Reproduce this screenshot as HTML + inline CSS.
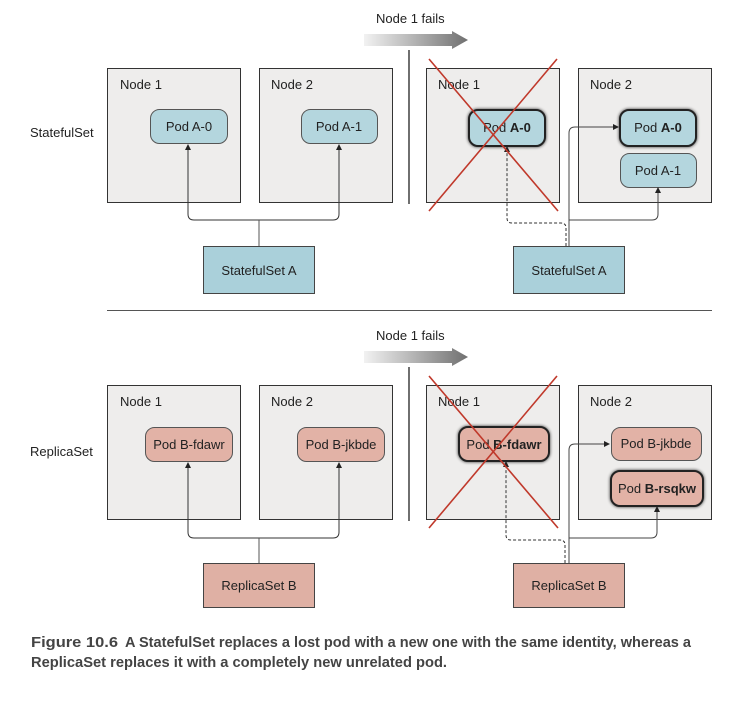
<!DOCTYPE html>
<html><head><meta charset="utf-8"><style>
html,body{margin:0;padding:0;background:#fff;}
svg{display:block;font-family:"Liberation Sans",sans-serif;}
</style></head><body>
<svg width="750" height="717" viewBox="0 0 750 717" xmlns="http://www.w3.org/2000/svg">
<defs>
<linearGradient id="g" x1="0" x2="1"><stop offset="0" stop-color="#f2f2f2"/><stop offset="1" stop-color="#707070"/></linearGradient>
<marker id="ah" markerWidth="6" markerHeight="6" refX="5" refY="3" orient="auto" markerUnits="userSpaceOnUse"><path d="M0,0 L6,3 L0,6 z" fill="#222"/></marker>
<filter id="sh" x="-20%" y="-30%" width="140%" height="160%"><feGaussianBlur in="SourceAlpha" stdDeviation="1.5"/><feComponentTransfer><feFuncA type="linear" slope="0.8"/></feComponentTransfer><feMerge><feMergeNode/><feMergeNode in="SourceGraphic"/></feMerge></filter>
</defs>
<g font-size="13" fill="#222">
<!-- TOP -->
<text x="376" y="23">Node 1 fails</text>
<path d="M364,34 H452 V31 L468,40 L452,49 V46 H364 z" fill="url(#g)"/>
<line x1="409" y1="50" x2="409" y2="204" stroke="#222" stroke-width="1.3"/>
<text x="30" y="137">StatefulSet</text>
<rect x="107.5" y="68.5" width="133" height="134" fill="#eeedec" stroke="#333"/>
<rect x="259.5" y="68.5" width="133" height="134" fill="#eeedec" stroke="#333"/>
<rect x="426.5" y="68.5" width="133" height="134" fill="#eeedec" stroke="#333"/>
<rect x="578.5" y="68.5" width="133" height="134" fill="#eeedec" stroke="#333"/>
<text x="120" y="89">Node 1</text><text x="271" y="89">Node 2</text>
<text x="438" y="89">Node 1</text><text x="590" y="89">Node 2</text>
<rect x="150.5" y="109.5" width="77" height="34" rx="9" fill="#b4d6de" stroke="#555"/>
<text x="189" y="131" text-anchor="middle">Pod A-0</text>
<rect x="301.5" y="109.5" width="76" height="34" rx="9" fill="#b4d6de" stroke="#555"/>
<text x="339" y="131" text-anchor="middle">Pod A-1</text>
<path d="M259,220 H194 Q188,220 188,214 V145" fill="none" stroke="#333" marker-end="url(#ah)"/>
<path d="M259,220 H333 Q339,220 339,214 V145" fill="none" stroke="#333" marker-end="url(#ah)"/>
<line x1="259" y1="220" x2="259" y2="246" stroke="#555"/>
<rect x="203.5" y="246.5" width="111" height="47" fill="#aad0da" stroke="#444"/>
<text x="259" y="275" text-anchor="middle">StatefulSet A</text>
<!-- right top -->
<rect x="469" y="110" width="76" height="36" rx="9" fill="#b4d6de" stroke="#222" stroke-width="2" filter="url(#sh)"/>
<text x="507" y="132" text-anchor="middle">Pod <tspan font-weight="bold">A-0</tspan></text>
<rect x="620" y="110" width="76" height="36" rx="9" fill="#b4d6de" stroke="#222" stroke-width="2" filter="url(#sh)"/>
<text x="658" y="132" text-anchor="middle">Pod <tspan font-weight="bold">A-0</tspan></text>
<rect x="620.5" y="153.5" width="76" height="34" rx="9" fill="#b4d6de" stroke="#555"/>
<text x="658" y="175" text-anchor="middle">Pod A-1</text>
<path d="M566,246 V228 Q566,223 561,223 H512 Q507,223 507,218 V147" fill="none" stroke="#333" stroke-dasharray="3,2" marker-end="url(#ah)"/>
<path d="M569,246 V133 Q569,127 575,127 H618" fill="none" stroke="#444" marker-end="url(#ah)"/>
<path d="M569,220 H652 Q658,220 658,214 V188" fill="none" stroke="#444" marker-end="url(#ah)"/>
<rect x="513.5" y="246.5" width="111" height="47" fill="#aad0da" stroke="#444"/>
<text x="569" y="275" text-anchor="middle">StatefulSet A</text>
<line x1="429" y1="59" x2="558" y2="211" stroke="#c0392b" stroke-width="1.6"/>
<line x1="557" y1="59" x2="429" y2="211" stroke="#c0392b" stroke-width="1.6"/>

<line x1="107" y1="310.5" x2="712" y2="310.5" stroke="#555"/>

<!-- BOTTOM -->
<text x="376" y="340">Node 1 fails</text>
<path d="M364,351 H452 V348 L468,357 L452,366 V363 H364 z" fill="url(#g)"/>
<line x1="409" y1="367" x2="409" y2="521" stroke="#222" stroke-width="1.3"/>
<text x="30" y="456">ReplicaSet</text>
<rect x="107.5" y="385.5" width="133" height="134" fill="#eeedec" stroke="#333"/>
<rect x="259.5" y="385.5" width="133" height="134" fill="#eeedec" stroke="#333"/>
<rect x="426.5" y="385.5" width="133" height="134" fill="#eeedec" stroke="#333"/>
<rect x="578.5" y="385.5" width="133" height="134" fill="#eeedec" stroke="#333"/>
<text x="120" y="406">Node 1</text><text x="271" y="406">Node 2</text>
<text x="438" y="406">Node 1</text><text x="590" y="406">Node 2</text>
<rect x="145.5" y="427.5" width="87" height="34" rx="9" fill="#e2b2a6" stroke="#555"/>
<text x="189" y="449" text-anchor="middle">Pod B-fdawr</text>
<rect x="297.5" y="427.5" width="87" height="34" rx="9" fill="#e2b2a6" stroke="#555"/>
<text x="341" y="449" text-anchor="middle">Pod B-jkbde</text>
<path d="M259,538 H194 Q188,538 188,532 V463" fill="none" stroke="#333" marker-end="url(#ah)"/>
<path d="M259,538 H333 Q339,538 339,532 V463" fill="none" stroke="#333" marker-end="url(#ah)"/>
<line x1="259" y1="538" x2="259" y2="563" stroke="#555"/>
<rect x="203.5" y="563.5" width="111" height="44" fill="#dfb0a4" stroke="#444"/>
<text x="259" y="590" text-anchor="middle">ReplicaSet B</text>
<!-- right bottom -->
<rect x="459" y="427" width="90" height="34" rx="9" fill="#e2b2a6" stroke="#222" stroke-width="2" filter="url(#sh)"/>
<text x="504" y="449" text-anchor="middle">Pod <tspan font-weight="bold">B-fdawr</tspan></text>
<rect x="611.5" y="427.5" width="90" height="33" rx="9" fill="#e2b2a6" stroke="#555"/>
<text x="656" y="448" text-anchor="middle">Pod B-jkbde</text>
<rect x="611" y="471" width="92" height="35" rx="9" fill="#e2b2a6" stroke="#222" stroke-width="2" filter="url(#sh)"/>
<text x="657" y="493" text-anchor="middle">Pod <tspan font-weight="bold">B-rsqkw</tspan></text>
<path d="M565,563 V545 Q565,540 560,540 H511 Q506,540 506,535 V462" fill="none" stroke="#333" stroke-dasharray="3,2" marker-end="url(#ah)"/>
<path d="M569,563 V450 Q569,444 575,444 H609" fill="none" stroke="#444" marker-end="url(#ah)"/>
<path d="M569,538 H651 Q657,538 657,532 V507" fill="none" stroke="#444" marker-end="url(#ah)"/>
<rect x="513.5" y="563.5" width="111" height="44" fill="#dfb0a4" stroke="#444"/>
<text x="569" y="590" text-anchor="middle">ReplicaSet B</text>
<line x1="429" y1="376" x2="558" y2="528" stroke="#c0392b" stroke-width="1.6"/>
<line x1="557" y1="376" x2="429" y2="528" stroke="#c0392b" stroke-width="1.6"/>

<g font-weight="bold" fill="#444" font-size="15">
<text x="31" y="647" textLength="87" lengthAdjust="spacingAndGlyphs">Figure 10.6</text>
<text x="125" y="647" textLength="566" lengthAdjust="spacingAndGlyphs">A StatefulSet replaces a lost pod with a new one with the same identity, whereas a</text>
<text x="31" y="667" textLength="416" lengthAdjust="spacingAndGlyphs">ReplicaSet replaces it with a completely new unrelated pod.</text>
</g>
</g>
</svg>
</body></html>
